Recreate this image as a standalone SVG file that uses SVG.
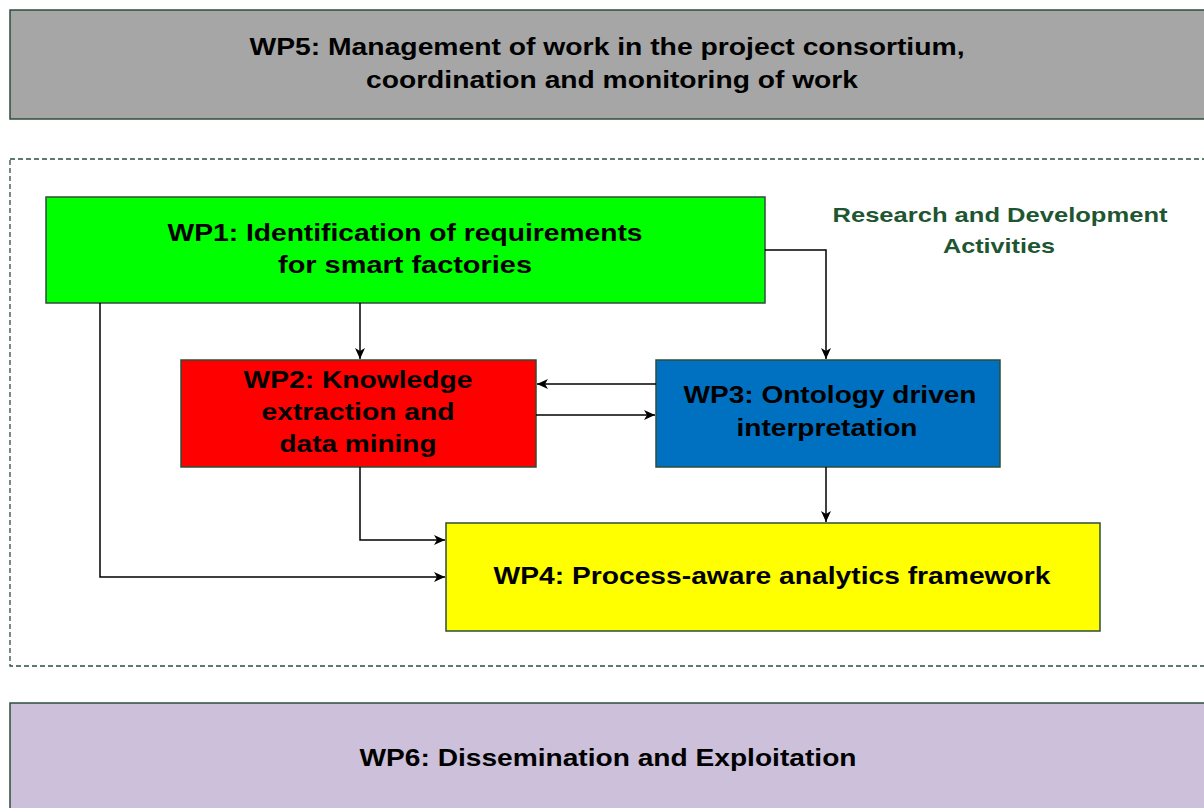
<svg xmlns="http://www.w3.org/2000/svg" width="1204" height="808" viewBox="0 0 1204 808">
<style>
.box{stroke:#2e4d3a;stroke-width:1.5}
.t{font-family:"Liberation Sans",Arial,sans-serif;font-weight:bold;fill:#000;text-anchor:middle}
.nar{font-family:"Liberation Sans Narrow","Liberation Sans",Arial,sans-serif;font-weight:bold;fill:#000;text-anchor:middle}
.rd{font-family:"Liberation Sans",Arial,sans-serif;font-weight:bold;fill:#1e5631;text-anchor:middle}
.c{fill:none;stroke:#000;stroke-width:1.5}
</style>
<defs>
<marker id="ah" markerWidth="12" markerHeight="12" refX="11" refY="6" orient="auto" markerUnits="userSpaceOnUse">
<path d="M0,1 L11,6 L0,11 L3,6 Z" fill="#000"/>
</marker>
</defs>
<rect width="1204" height="808" fill="#fff"/>
<g id="wp5">
<rect class="box" x="10" y="10" width="1200" height="109" fill="#a6a6a6"/>
<text class="nar" x="607" y="55" font-size="24" textLength="715" lengthAdjust="spacingAndGlyphs">WP5: Management of work in the project consortium,</text>
<text class="nar" x="612" y="88" font-size="24" textLength="492" lengthAdjust="spacingAndGlyphs">coordination and monitoring of work</text>
</g>
<g id="rd">
<rect x="10" y="159" width="1200" height="507" fill="none" stroke="#2e4d3a" stroke-width="1.3" stroke-dasharray="5,3"/>
<text class="rd" x="1000" y="222" font-size="21" textLength="335" lengthAdjust="spacingAndGlyphs">Research and Development</text>
<text class="rd" x="999" y="253" font-size="21" textLength="112" lengthAdjust="spacingAndGlyphs">Activities</text>
</g>
<g id="wp1">
<rect class="box" x="46" y="197" width="719" height="106" fill="#00ff00"/>
<text class="t" x="405" y="241" font-size="24" textLength="475" lengthAdjust="spacingAndGlyphs">WP1: Identification of requirements</text>
<text class="t" x="405" y="273" font-size="24" textLength="254" lengthAdjust="spacingAndGlyphs">for smart factories</text>
</g>
<g id="wp2">
<rect class="box" x="181" y="360" width="355" height="107" fill="#ff0000"/>
<text class="t" x="358" y="388" font-size="24" textLength="229" lengthAdjust="spacingAndGlyphs">WP2: Knowledge</text>
<text class="t" x="358" y="420" font-size="24" textLength="193" lengthAdjust="spacingAndGlyphs">extraction and</text>
<text class="t" x="358" y="452" font-size="24" textLength="157" lengthAdjust="spacingAndGlyphs">data mining</text>
</g>
<g id="wp3">
<rect class="box" x="656" y="360" width="344" height="107" fill="#0070c0"/>
<text class="t" x="830" y="403" font-size="24" textLength="293" lengthAdjust="spacingAndGlyphs">WP3: Ontology driven</text>
<text class="t" x="827" y="436" font-size="24" textLength="181" lengthAdjust="spacingAndGlyphs">interpretation</text>
</g>
<g id="wp4">
<rect class="box" x="446" y="523" width="654" height="108" fill="#ffff00"/>
<text class="t" x="772" y="584" font-size="24" textLength="557" lengthAdjust="spacingAndGlyphs">WP4: Process-aware analytics framework</text>
</g>
<g id="wp6">
<rect class="box" x="10" y="703" width="1200" height="120" fill="#ccc0da"/>
<text class="nar" x="608" y="766" font-size="24" textLength="497" lengthAdjust="spacingAndGlyphs">WP6: Dissemination and Exploitation</text>
</g>
<g id="connectors">
<path class="c" d="M360,303 V359" marker-end="url(#ah)"/>
<path class="c" d="M765,250 H826 V359" marker-end="url(#ah)"/>
<path class="c" d="M100,303 V577 H445" marker-end="url(#ah)"/>
<path class="c" d="M656,384 H537" marker-end="url(#ah)"/>
<path class="c" d="M536,415 H655" marker-end="url(#ah)"/>
<path class="c" d="M360,467 V540 H445" marker-end="url(#ah)"/>
<path class="c" d="M826,467 V522" marker-end="url(#ah)"/>
</g>
</svg>
